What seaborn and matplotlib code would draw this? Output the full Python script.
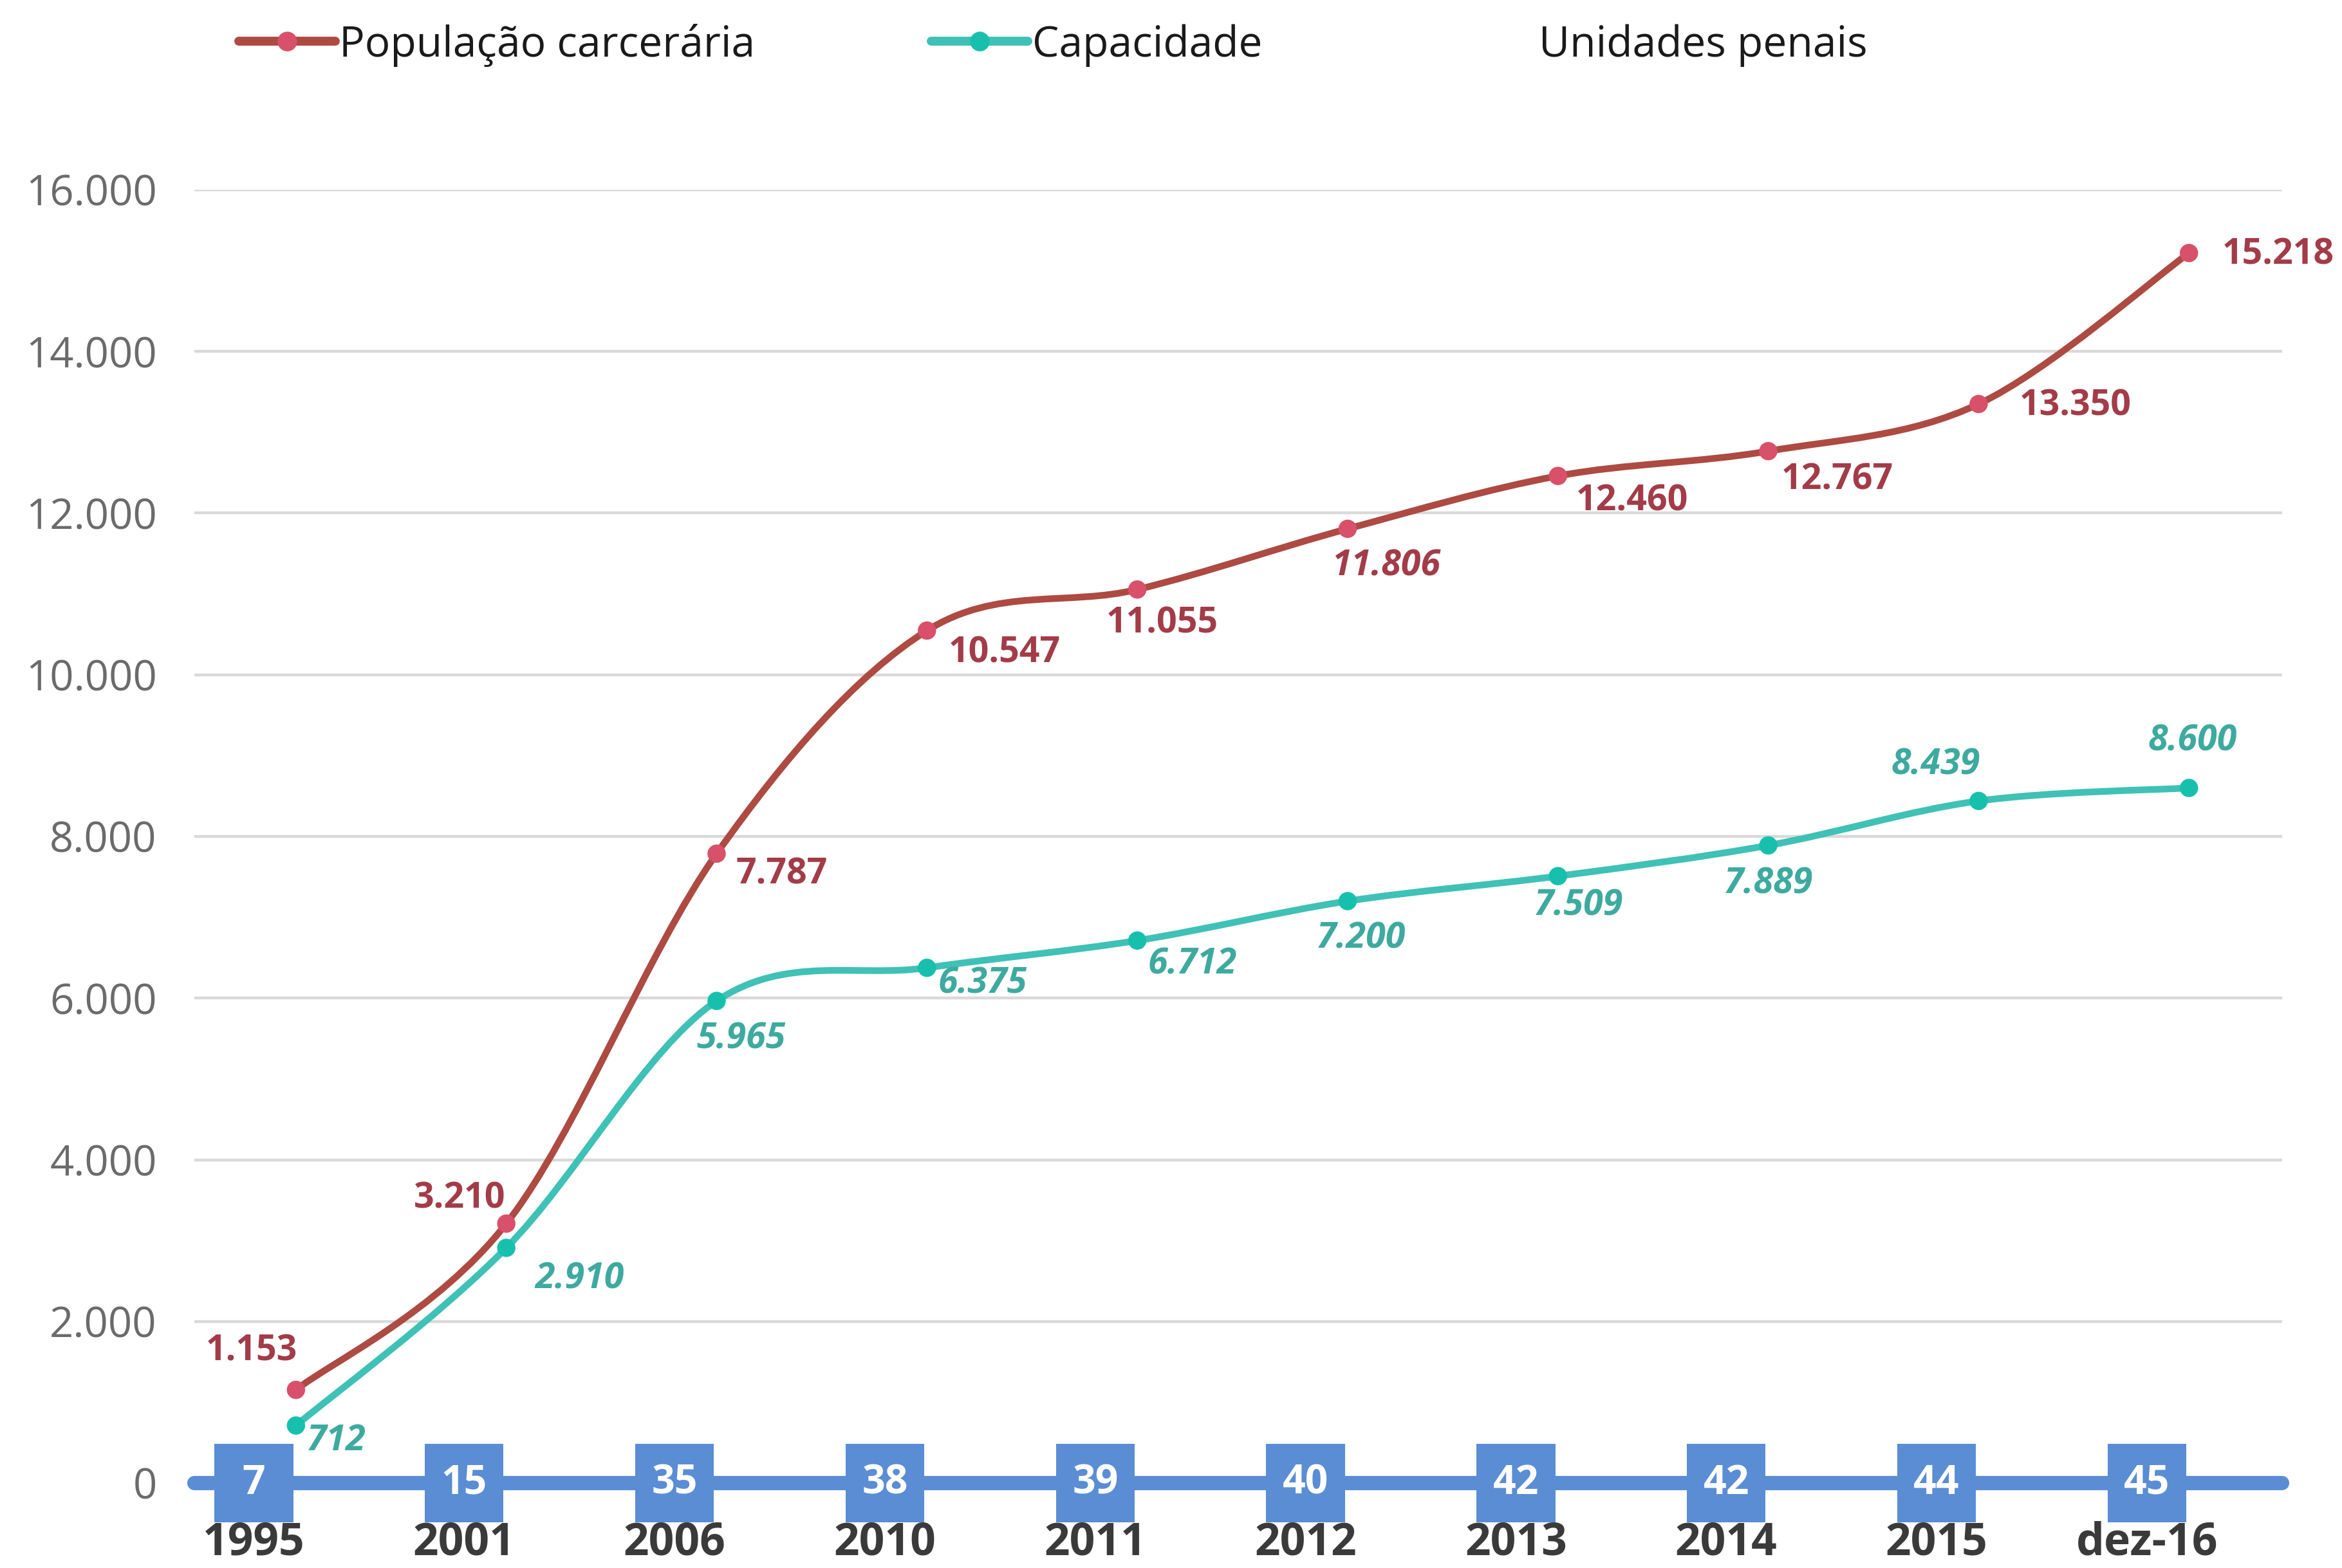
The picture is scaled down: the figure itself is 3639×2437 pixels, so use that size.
import numpy as np
import matplotlib
matplotlib.use('Agg')
import matplotlib.pyplot as plt
from matplotlib.path import Path
from matplotlib.patches import PathPatch
from matplotlib.lines import Line2D
from matplotlib.ticker import FuncFormatter
import seaborn as sns

# Dados do gráfico
anos = ['1995', '2001', '2006', '2010', '2011', '2012', '2013', '2014', '2015', 'dez-16']
populacao = [1153, 3210, 7787, 10547, 11055, 11806, 12460, 12767, 13350, 15218]
capacidade = [712, 2910, 5965, 6375, 6712, 7200, 7509, 7889, 8439, 8600]
unidades = [7, 15, 35, 38, 39, 40, 42, 42, 44, 45]

# Deslocamento dos rótulos (pontos)
desl_pop = [(-50, 43), (-52, 28), (73, -23), (87, -25), (28, -38),
            (43, -42), (83, -28), (77, -32), (108, -2), (100, -2)]
desl_cap = [(45, -17), (82, -35), (27, -43), (62, -18), (62, -27),
            (15, -42), (23, -33), (0, -43), (-48, 40), (4, 52)]

# Cores
cor_pop_linha = '#ad4a42'
cor_pop_marca = '#d8506a'
cor_pop_texto = '#a23c48'
cor_cap_linha = '#3fc1b6'
cor_cap_marca = '#17c0ad'
cor_cap_texto = '#3eaa9f'
cor_azul = '#5a8dd3'

sns.set_style('white')
plt.rcParams['font.family'] = ['Open Sans', 'DejaVu Sans']


def curva_suave(xs, ys):
    """Curva de Bezier passando pelos pontos (suavização estilo Excel)"""
    pts = np.column_stack([xs, ys]).astype(float)
    n = len(pts)
    verts = [pts[0]]
    codes = [Path.MOVETO]
    for i in range(n - 1):
        p0 = pts[max(i - 1, 0)]
        p1 = pts[i]
        p2 = pts[i + 1]
        p3 = pts[min(i + 2, n - 1)]
        verts += [p1 + (p2 - p0) / 6, p2 - (p3 - p1) / 6, p2]
        codes += [Path.CURVE4] * 3
    return Path(verts, codes)


fig = plt.figure(figsize=(36.39, 24.37), dpi=100)
ax = fig.add_axes([302 / 3639, 1 - 2305 / 2437, 3244 / 3639, 2010 / 2437])

pos = np.arange(len(anos))
pos_linhas = pos + 0.2

# linha base das unidades penais
ax.axhline(0, color=cor_azul, lw=16, zorder=3, clip_on=False)

# linhas suavizadas
for vals, cor in [(populacao, cor_pop_linha), (capacidade, cor_cap_linha)]:
    patch = PathPatch(curva_suave(pos_linhas, vals), facecolor='none', edgecolor=cor,
                      lw=7.5, capstyle='round', joinstyle='round', zorder=5, clip_on=False)
    ax.add_patch(patch)

sns.scatterplot(x=pos_linhas, y=populacao, ax=ax, s=420, color=cor_pop_marca,
                edgecolor='none', zorder=6, clip_on=False)
sns.scatterplot(x=pos_linhas, y=capacidade, ax=ax, s=420, color=cor_cap_marca,
                edgecolor='none', zorder=6, clip_on=False)

# caixas com o número de unidades
sns.scatterplot(x=pos, y=np.zeros(len(pos)), ax=ax, marker='s', s=88 ** 2,
                color=cor_azul, edgecolor='none', zorder=4, clip_on=False)
for x, u in zip(pos, unidades):
    ax.text(x, 0, str(u), ha='center', va='center', color='white',
            fontsize=45, fontweight='bold', zorder=7)

# rótulos de dados
def fmt(v):
    return f'{v:,.0f}'.replace(',', '.')

for x, v, d in zip(pos_linhas, populacao, desl_pop):
    estilo = 'italic' if v == 11806 else 'normal'
    ax.annotate(fmt(v), (x, v), xytext=d, textcoords='offset points',
                ha='center', va='center', fontsize=40, fontweight='bold',
                fontstyle=estilo, color=cor_pop_texto, zorder=8)
for x, v, d in zip(pos_linhas, capacidade, desl_cap):
    ax.annotate(fmt(v), (x, v), xytext=d, textcoords='offset points',
                ha='center', va='center', fontsize=40, fontweight='bold',
                fontstyle='italic', color=cor_cap_texto, zorder=8)

# eixos
ax.set_xlim(-0.283, 9.643)
ax.set_ylim(0, 16000)
ax.set_yticks(range(0, 16001, 2000))
ax.yaxis.set_major_formatter(FuncFormatter(lambda v, p: fmt(v)))
ax.set_xticks(pos)
ax.set_xticklabels(anos, fontweight='bold')
ax.tick_params(axis='y', length=0, pad=42, labelsize=47, labelcolor='#6b6b6b')
ax.tick_params(axis='x', length=0, pad=42, labelsize=50, labelcolor='#3a3a3a')
ax.yaxis.grid(True, color='#d9d9d9', lw=3.2, zorder=0)
ax.xaxis.grid(False)
ax.set_axisbelow(True)
for s in ax.spines.values():
    s.set_visible(False)
ax.set_xlabel('')
ax.set_ylabel('')

# legenda
handles = [
    Line2D([0], [0], color=cor_pop_linha, lw=10, marker='o', markersize=22,
           markerfacecolor=cor_pop_marca, markeredgecolor='none'),
    Line2D([0], [0], color=cor_cap_linha, lw=10, marker='o', markersize=22,
           markerfacecolor=cor_cap_marca, markeredgecolor='none'),
    Line2D([0], [0], color='none'),
]
labels = ['População carcerária', 'Capacidade', 'Unidades penais']
fig.legend(handles, labels, loc='center left', bbox_to_anchor=(371 / 3639, 1 - 70 / 2437),
           ncol=3, frameon=False, fontsize=47.5, handlelength=2.27, handletextpad=0.1,
           columnspacing=4.15, borderpad=0, borderaxespad=0, labelcolor='#1a1a1a')

fig.savefig('out.png', dpi=100)
plt.close(fig)
